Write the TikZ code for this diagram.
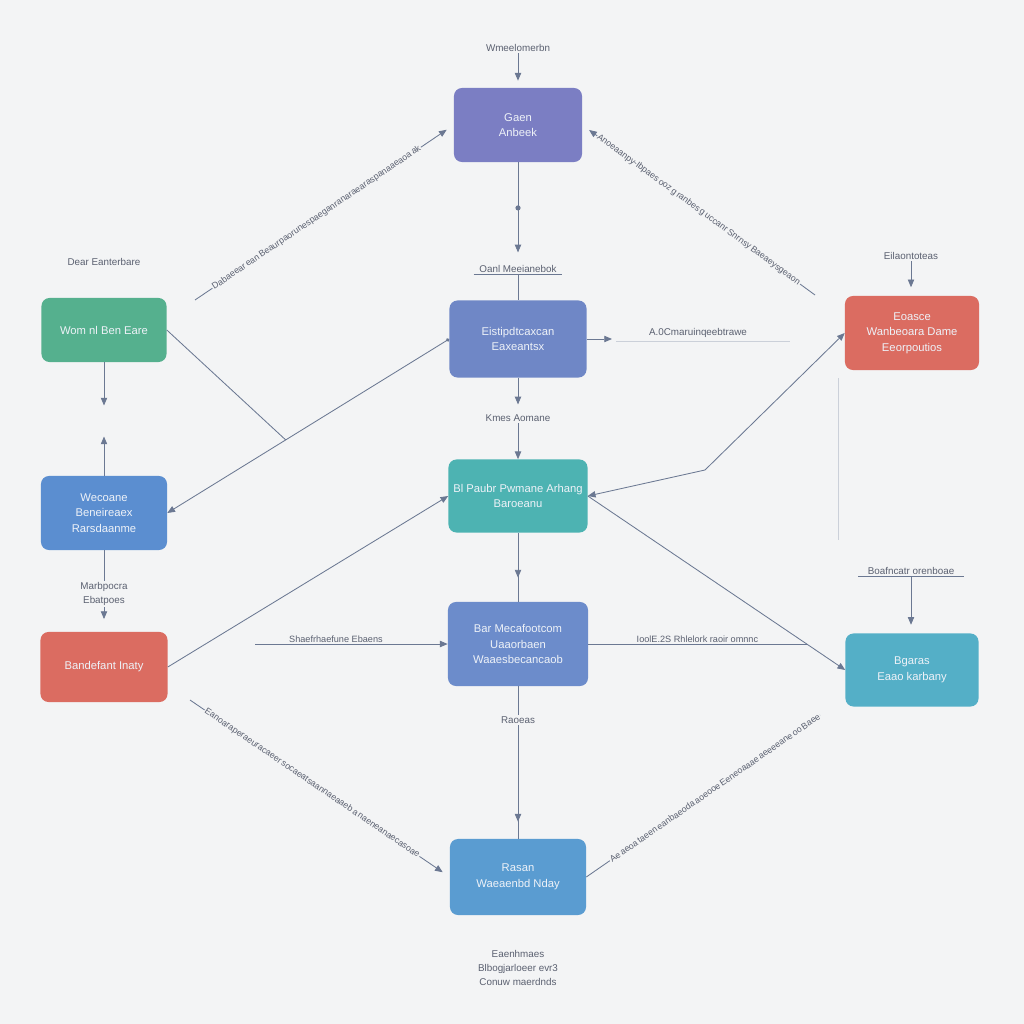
\documentclass[tikz,border=0pt]{standalone}
\usepackage{fontspec}
\setmainfont{Liberation Sans}
\usetikzlibrary{arrows.meta,calc,decorations.markings}

\definecolor{bgc}{HTML}{F3F4F5}
\definecolor{linec}{HTML}{6B7892}
\definecolor{lbltext}{HTML}{5A6070}
\definecolor{boxtext}{HTML}{EEF2F8}
\definecolor{ctop}{HTML}{7B7EC3}
\definecolor{cmidA}{HTML}{6F87C6}
\definecolor{cmidB}{HTML}{4DB3B2}
\definecolor{cmidC}{HTML}{6C8CCB}
\definecolor{cbot}{HTML}{5A9CD1}
\definecolor{cgreen}{HTML}{55B08E}
\definecolor{cblue}{HTML}{5B8ED0}
\definecolor{cred}{HTML}{DB6C61}
\definecolor{cteal}{HTML}{54AFC7}

\tikzset{
  box/.style={rounded corners=0.2cm, text=boxtext, align=center, font=\fontsize{8}{11}\selectfont, inner sep=2pt},
  lbl/.style={text=lbltext, font=\fontsize{7}{10}\selectfont, align=center, inner sep=1pt},
  dlbl/.style={text=lbltext, font=\fontsize{6.3}{8}\selectfont, sloped, fill=bgc, inner sep=0.6pt},
  conn/.style={color=linec, line width=0.6pt},
  faint/.style={color=linec!35, line width=0.4pt},
  midarrow/.style={postaction={decorate}, decoration={markings, mark=at position #1 with {\arrow{>}}}},
}

\begin{document}
\begin{tikzpicture}[x=0.025cm, y=-0.025cm, >={Triangle[width=4.5pt,length=5.5pt]}]
\fill[bgc] (0,0) rectangle (1024,1024);
\useasboundingbox (0,0) rectangle (1024,1024);

% boxes
\node[box, fill=ctop, minimum width=3.2cm, minimum height=1.85cm] (top) at (518,125) {Gaen\\Anbeek};
\node[box, fill=cmidA, minimum width=3.425cm, minimum height=1.925cm] (mid1) at (518,339) {Eistipdtcaxcan\\Eaxeantsx};
\node[box, fill=cmidB, minimum width=3.475cm, minimum height=1.825cm] (mid2) at (518,496) {Bl Paubr Pwmane Arhang\\Baroeanu};
\node[box, fill=cmidC, minimum width=3.5cm, minimum height=2.1cm] (mid3) at (518,644) {Bar Mecafootcom\\Uaaorbaen\\Waaesbecancaob};
\node[box, fill=cbot, minimum width=3.4cm, minimum height=1.9cm] (bot) at (518,877) {Rasan\\Waeaenbd Nday};
\node[box, fill=cgreen, minimum width=3.125cm, minimum height=1.6cm] (left1) at (104,330) {Wom nl Ben Eare};
\node[box, fill=cblue, minimum width=3.15cm, minimum height=1.85cm] (left2) at (104,513) {Wecoane\\Beneireaex\\Rarsdaanme};
\node[box, fill=cred, minimum width=3.175cm, minimum height=1.75cm] (left3) at (104,667) {Bandefant Inaty};
\node[box, fill=cred, minimum width=3.35cm, minimum height=1.85cm] (right1) at (912,333) {Eoasce\\Wanbeoara Dame\\Eeorpoutios};
\node[box, fill=cteal, minimum width=3.325cm, minimum height=1.825cm] (right2) at (912,670) {Bgaras\\Eaao karbany};

% centre column
\node[lbl] (wm) at (518,48) {Wmeelomerbn};
\draw[conn, ->, shorten >=5pt] (wm.south) -- (top.north);
\node[lbl] (oanl) at (518,269) {Oanl Meeianebok};
\draw[conn, ->, shorten >=8pt] (top.south) -- (oanl.north) node[pos=0.45, circle, fill=linec, inner sep=1.3pt] (dot) {};
\draw[conn] ($(oanl.south west)+(-4,0)$) -- ($(oanl.south east)+(4,0)$);
\draw[conn] (oanl.south) -- (mid1.north);
\node[lbl] (kmes) at (518,418) {Kmes Aomane};
\draw[conn, ->, shorten >=6pt] (mid1.south) -- (kmes.north);
\draw[conn, ->] (kmes.south) -- (mid2.north);
\draw[conn, midarrow=0.65] (mid2.south) -- (mid3.north);
\node[lbl] (raoeas) at (518,720) {Raoeas};
\draw[conn] (mid3.south) -- (raoeas.north);
\draw[conn, midarrow=0.85] (raoeas.south) -- (bot.north);
\node[lbl] (foot) at (518,968) {Eaenhmaes\\Blbogjarloeer evr3\\Conuw maerdnds};

% left column
\node[lbl] (dear) at (104,262) {Dear Eanterbare};
\coordinate (lm) at (104,421);
\draw[conn, ->, shorten >=11pt] (left1.south) -- (lm);
\draw[conn, ->, shorten >=11pt] (left2.north) -- (lm);
\node[lbl] (marb) at (104,594) {Marbpocra\\Ebatpoes};
\draw[conn] (left2.south) -- (marb.north);
\draw[conn, ->, shorten >=9pt] (marb.south) -- (left3.north);

% right column
\node[lbl] (eila) at (911,256) {Eilaontoteas};
\draw[conn, ->, shorten >=6pt] (eila.south) -- (eila.south |- right1.north);
\node[lbl] (boaf) at (911,571) {Boafncatr orenboae};
\draw[conn] ($(boaf.south west)+(-8,0)$) -- ($(boaf.south east)+(8,0)$);
\draw[conn, ->, shorten >=6pt] (boaf.south) -- (boaf.south |- right2.north);
\draw[faint] (838,378) -- (838,540);

% diagonals
\coordinate (tlA) at (195,300);
\draw[conn, ->, shorten >=6pt] (tlA) -- (top.west) node[dlbl, pos=0.47] {Dabaeear\,ean\,Beaurpaorunespaeganranaraearaspanaaeaoa\,ak};
\coordinate (trA) at (815,295);
\draw[conn, ->, shorten >=6pt] (trA) -- (top.east) node[dlbl, pos=0.5] {Anoeaanpy-Ibpaes\,ooz\,g\,ranbes\,g\,uccanr\,Snrnsy\,Baeaeysgeaon};
\coordinate (blA) at (190,700);
\draw[conn, ->, shorten >=6pt] (blA) -- (bot.west) node[dlbl, pos=0.47] {Eanoaraperaeuracaeer\,socaeatsaannaeaaeb\,a\,naeneanaecasoae};
\coordinate (brA) at (820,715);
\draw[conn] (bot.east) -- (brA) node[dlbl, pos=0.55] {Ae\,aeoa\,taeen\,eanbaeoda\,aoeooe\,Eeneoaaae\,aeeeeane\,oo\,Baee};

% cross links
\coordinate (jL) at ($(mid1.west)!0.58!(left2.east)$);
\draw[conn] (left1.east) -- (jL);
\draw[conn, {Circle[length=2.5pt]}->] (mid1.west) -- (left2.east);
\coordinate (m1r) at (612,339);
\draw[conn, ->] (mid1.east) -- (m1r);
\node[lbl] (aoc) at (698,333) {A.0Cmaruinqeebtrawe};
\draw[faint] (616,341) -- (790,341);
\coordinate (jR) at (705,470);
\draw[conn, <->] (mid2.east) -- (jR) -- (right1.west);
\draw[conn, ->] (mid2.east) -- (right2.west);
\coordinate (jM) at ($(mid2.east)!0.85!(right2.west)$);
\draw[conn] (mid3.east) -- (mid3.east -| jM) node[lbl, above, pos=0.5, font=\fontsize{6.5}{8}\selectfont] {IoolE.2S Rhlelork raoir omnnc};
\draw[conn, ->] (left3.east) -- (mid2.west);
\coordinate (shA) at (255,644);
\draw[conn, ->] (shA) -- (mid3.west) node[lbl, above, pos=0.42, font=\fontsize{6.5}{8}\selectfont] {Shaefrhaefune Ebaens};

\end{tikzpicture}
\end{document}
